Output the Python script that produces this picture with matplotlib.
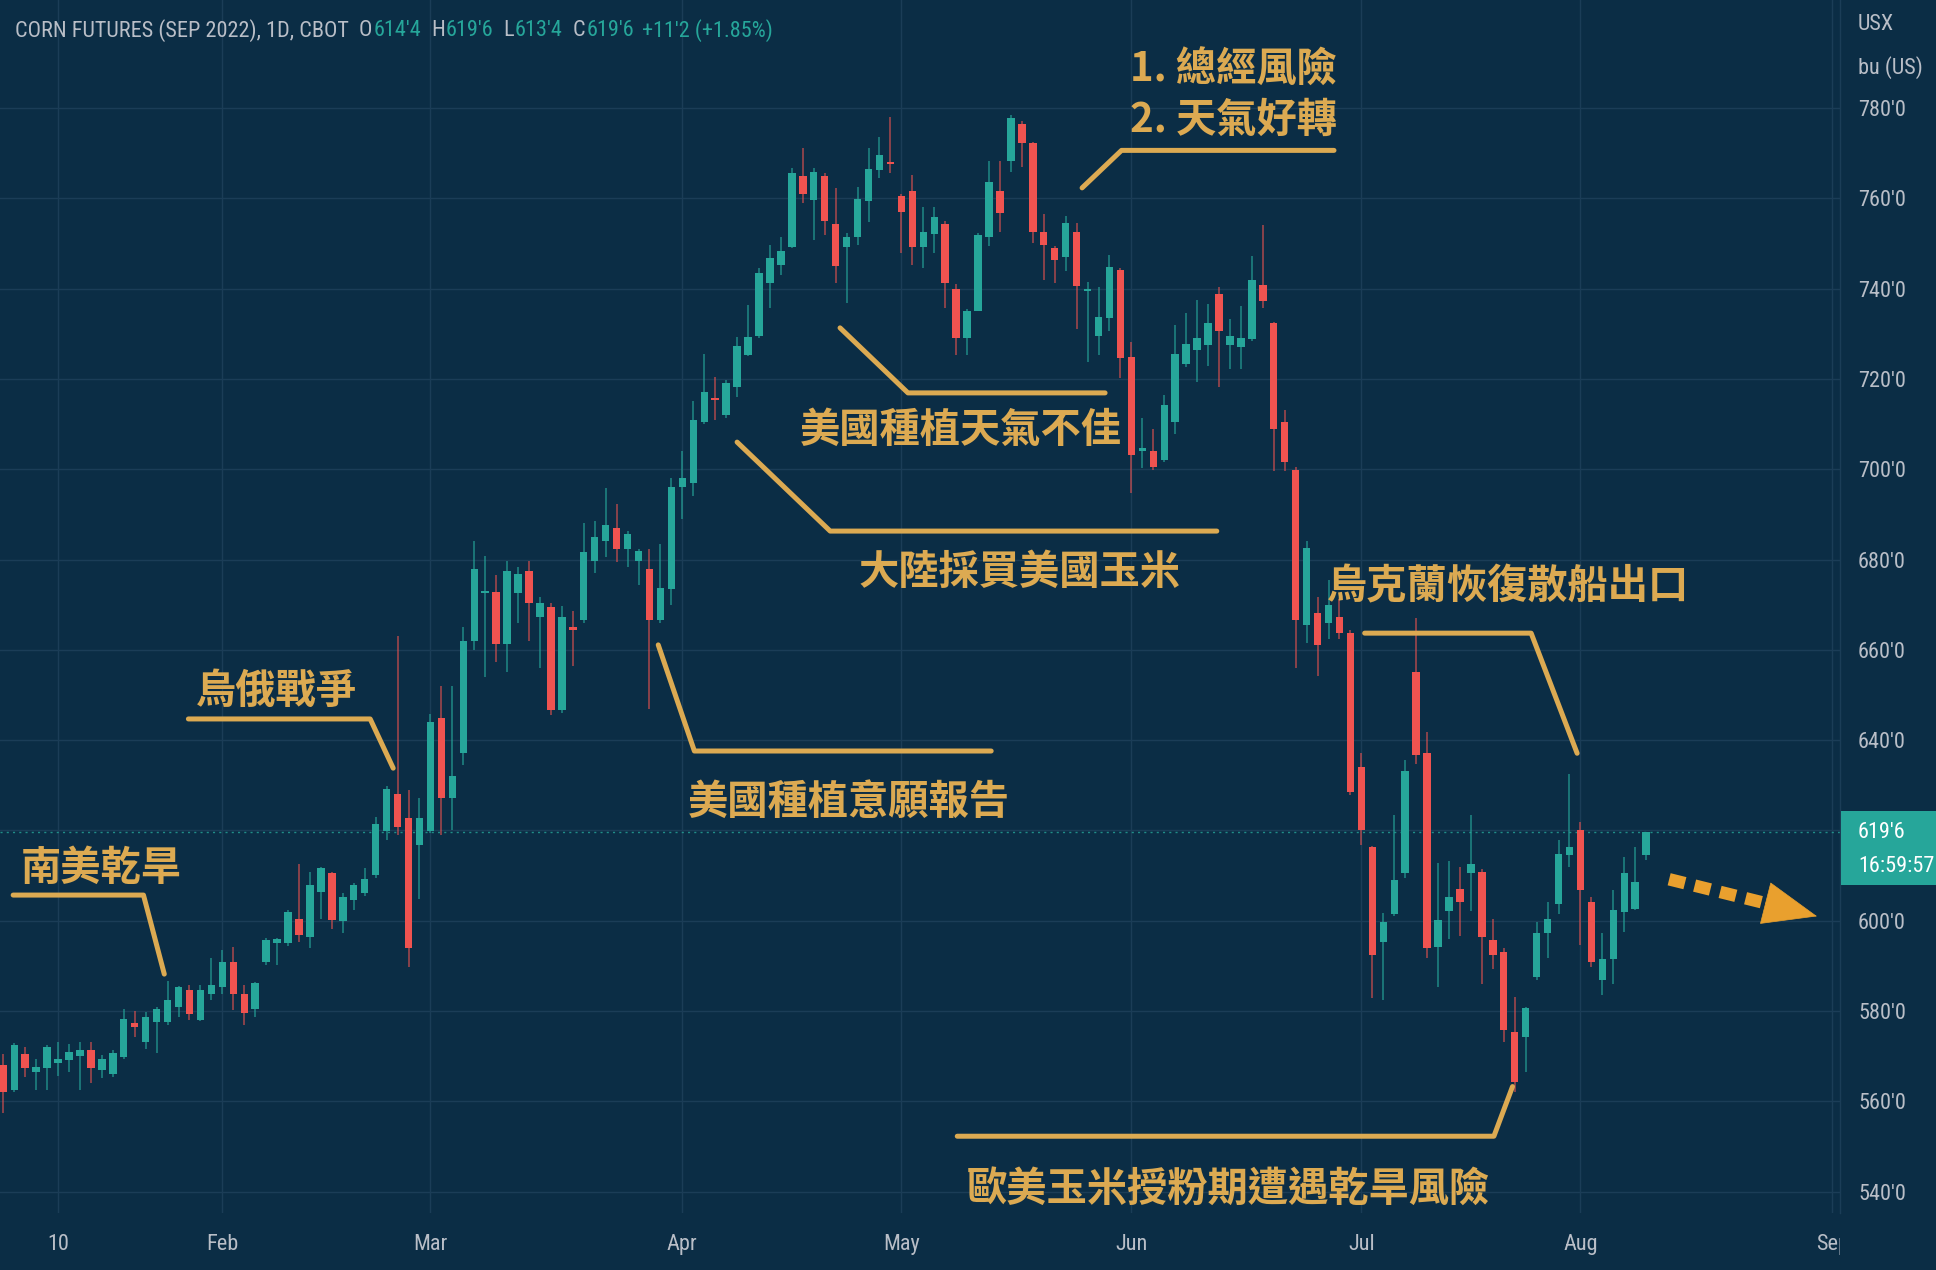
import numpy as np
import pandas as pd
import matplotlib
matplotlib.use('Agg')
import matplotlib.pyplot as plt
from matplotlib import font_manager as fm
from matplotlib.patches import Rectangle
from matplotlib.ticker import FuncFormatter, FixedLocator
from matplotlib.transforms import Bbox

# ---------------- data ----------------
start_date = '2022-01-03'
holidays = ['2022-01-17', '2022-02-21', '2022-04-15', '2022-05-30',
            '2022-06-20', '2022-07-04', '2022-09-05']

opens = [568.0, 562.5, 570.6, 566.6, 567.3, 568.6, 569.2, 570.0, 571.5, 566.9,
         566.0, 569.9, 577.3, 573.2, 577.6, 577.5, 581.0, 584.7, 578.0, 583.9,
         585.4, 590.9, 583.8, 580.4, 590.9, 595.0, 595.1, 600.3, 596.5, 606.4,
         610.5, 600.0, 604.6, 606.1, 610.1, 619.9, 628.1, 622.7, 616.8, 619.9,
         645.0, 627.1, 637.2, 662.0, 672.5, 672.9, 661.4, 672.6, 677.5, 667.2,
         669.5, 646.7, 665.0, 666.6, 679.7, 684.0, 686.9, 682.3, 679.7, 678.0,
         666.5, 673.4, 696.0, 697.0, 710.5, 715.8, 712.0, 718.3, 725.3, 729.5,
         741.3, 745.2, 749.1, 764.9, 759.6, 764.9, 754.3, 749.3, 751.4, 759.3,
         766.3, 768.1, 760.5, 761.5, 749.3, 752.1, 754.3, 740.0, 729.0, 735.1,
         751.5, 761.7, 768.3, 776.5, 772.2, 752.6, 748.9, 746.9, 752.6, 739.5,
         729.5, 733.4, 744.1, 724.8, 704.0, 704.1, 702.0, 710.5, 723.4, 726.4,
         727.5, 738.8, 727.5, 727.1, 728.8, 740.8, 732.3, 710.5, 699.8, 665.5,
         668.2, 666.0, 667.3, 663.8, 634.0, 616.3, 595.4, 601.6, 610.5, 655.2,
         637.1, 594.1, 602.2, 607.0, 610.5, 610.9, 595.7, 593.1, 575.4, 574.3,
         587.6, 597.2, 603.8, 614.5, 620.1, 604.2, 586.9, 591.6, 602.0, 602.7,
         614.5]
highs = [570.6, 573.0, 572.0, 569.3, 572.5, 573.2, 572.8, 573.2, 573.2, 570.3,
         571.5, 580.4, 580.0, 579.9, 581.0, 586.7, 585.6, 585.8, 585.8, 591.7,
         593.5, 594.3, 585.8, 586.5, 596.1, 596.3, 602.5, 612.6, 610.9, 612.0,
         610.9, 606.2, 608.3, 611.6, 623.0, 629.8, 663.0, 629.0, 627.1, 645.9,
         652.0, 652.0, 665.0, 684.0, 680.8, 676.6, 679.7, 678.3, 679.7, 671.6,
         670.3, 669.7, 668.7, 688.0, 688.6, 695.8, 692.3, 686.4, 682.3, 682.3,
         683.4, 698.0, 704.0, 715.0, 725.6, 720.5, 719.7, 729.3, 736.4, 744.5,
         749.6, 751.5, 766.6, 771.1, 766.6, 765.5, 762.2, 752.2, 762.6, 771.1,
         773.6, 778.0, 761.0, 765.2, 758.0, 758.0, 755.0, 741.0, 735.5, 752.4,
         768.3, 768.3, 778.5, 777.0, 772.5, 756.5, 749.5, 756.1, 754.5, 741.5,
         740.4, 747.5, 744.5, 728.2, 711.3, 709.0, 716.4, 731.9, 734.5, 737.5,
         736.6, 740.3, 733.2, 736.1, 747.2, 754.1, 732.5, 713.2, 700.5, 684.2,
         671.6, 675.5, 671.2, 664.4, 637.1, 616.5, 601.8, 623.4, 635.6, 667.0,
         641.9, 612.9, 613.3, 612.0, 623.4, 611.5, 600.5, 593.9, 583.2, 581.0,
         599.8, 604.2, 618.0, 632.5, 621.9, 605.3, 597.2, 606.8, 614.2, 616.4,
         619.75]
lows = [557.5, 562.0, 565.5, 562.5, 562.5, 565.6, 566.6, 562.6, 564.0, 565.1,
        565.5, 569.5, 574.3, 571.7, 570.8, 577.0, 578.7, 578.0, 577.8, 582.4,
        583.9, 580.2, 576.9, 578.7, 590.2, 590.2, 594.4, 595.4, 593.9, 600.3,
        598.1, 597.4, 602.4, 605.5, 609.5, 618.0, 619.0, 589.8, 604.9, 619.5,
        619.0, 620.1, 634.5, 660.0, 654.0, 657.4, 655.1, 665.9, 662.0, 655.9,
        645.6, 646.0, 656.4, 666.0, 677.1, 680.6, 679.5, 678.3, 674.4, 646.8,
        666.0, 669.9, 689.0, 694.0, 710.0, 710.9, 711.3, 716.0, 725.0, 729.0,
        735.6, 743.0, 749.0, 758.9, 750.8, 751.9, 741.2, 736.9, 749.6, 754.8,
        764.4, 765.5, 747.8, 745.2, 744.5, 747.8, 735.6, 725.3, 725.3, 735.0,
        749.4, 752.6, 765.9, 766.9, 750.2, 741.8, 741.3, 743.8, 731.0, 723.8,
        725.3, 730.5, 720.1, 694.8, 700.2, 699.8, 701.5, 707.9, 722.7, 719.4,
        722.9, 718.1, 722.3, 722.3, 728.5, 735.6, 699.7, 699.5, 656.0, 661.6,
        654.1, 662.5, 662.5, 627.8, 616.8, 582.8, 582.4, 601.0, 609.4, 634.7,
        591.7, 585.4, 595.9, 596.6, 602.2, 586.1, 589.4, 573.2, 562.1, 566.6,
        586.9, 591.7, 601.6, 612.0, 594.6, 589.8, 583.5, 586.1, 597.6, 602.4,
        613.5]
closes = [562.0, 572.5, 567.3, 567.7, 572.0, 569.3, 571.0, 571.5, 567.3, 569.5,
          570.8, 578.2, 576.4, 578.8, 580.4, 582.4, 585.4, 579.3, 584.7, 585.8,
          590.9, 583.9, 579.6, 586.3, 595.7, 595.9, 602.0, 596.8, 607.9, 611.6,
          600.2, 605.3, 607.9, 609.2, 621.4, 629.1, 620.7, 593.9, 622.7, 644.1,
          627.3, 632.0, 662.0, 678.0, 672.8, 661.4, 677.5, 676.9, 670.4, 670.3,
          646.7, 667.3, 664.4, 681.7, 685.1, 687.6, 682.3, 685.6, 682.0, 666.6,
          673.8, 696.1, 698.0, 711.0, 717.2, 715.3, 719.0, 727.3, 729.3, 743.4,
          746.7, 748.4, 765.7, 761.0, 765.9, 755.0, 744.9, 751.5, 759.8, 766.4,
          769.6, 767.6, 757.0, 749.3, 752.6, 755.9, 741.3, 729.0, 735.1, 751.9,
          763.7, 756.8, 777.7, 772.2, 752.6, 749.7, 746.3, 754.5, 740.6, 739.8,
          733.6, 744.7, 724.6, 703.1, 704.6, 700.6, 714.2, 725.6, 727.7, 729.0,
          732.3, 730.5, 729.4, 729.0, 741.8, 737.3, 708.8, 701.7, 666.6, 682.5,
          661.1, 669.9, 663.8, 628.6, 620.0, 592.4, 599.8, 609.0, 633.2, 636.7,
          593.9, 600.2, 605.3, 604.2, 612.6, 596.5, 592.4, 575.8, 564.3, 580.6,
          597.2, 600.5, 614.9, 616.4, 606.8, 590.9, 591.6, 602.4, 610.5, 608.6,
          619.75]

month_ticks = ['2022-01-10', '2022-02-01', '2022-03-01', '2022-04-01', '2022-05-02',
               '2022-06-01', '2022-07-01', '2022-08-01', '2022-09-01']
month_labels = ['10', 'Feb', 'Mar', 'Apr', 'May', 'Jun', 'Jul', 'Aug', 'Sep']
price_ticks = [540, 560, 580, 600, 640, 660, 680, 700, 720, 740, 760, 780]
last_price = 619.75

header_parts = [("CORN FUTURES (SEP 2022), 1D, CBOT", 'grey', 10),
                ("O", 'grey', 1), ("614'4", 'teal', 10),
                ("H", 'grey', 1), ("619'6", 'teal', 10),
                ("L", 'grey', 1), ("613'4", 'teal', 10),
                ("C", 'grey', 1), ("619'6", 'teal', 8),
                ("+11'2 (+1.85%)", 'teal', 0)]

# annotations: (text, text x (trading-day index), text y (price), ha), path points
annotations = [
    ('南美乾旱', 8.9, 611.6, 'center', [(0.9, 605.7), (12.8, 605.7), (14.7, 588.2)]),
    ('烏俄戰爭', 24.9, 650.8, 'center', [(16.9, 644.7), (33.5, 644.7), (35.6, 633.8)]),
    ('美國種植意願報告', 77.2, 626.2, 'center', [(59.8, 661.1), (63.1, 637.6), (90.2, 637.6)]),
    ('大陸採買美國玉米', 92.8, 677.2, 'center', [(67.0, 706.0), (75.5, 686.3), (110.8, 686.3)]),
    ('美國種植天氣不佳', 87.4, 708.7, 'center', [(76.4, 731.3), (82.6, 716.9), (100.6, 716.9)]),
    ('1. 總經風險', 121.8, 788.4, 'right', []),
    ('2. 天氣好轉', 121.8, 777.3, 'right', [(98.5, 762.3), (102.1, 770.6), (121.5, 770.6)]),
    ('烏克蘭恢復散船出口', 137.4, 674.0, 'center', [(124.3, 663.7), (139.5, 663.7), (143.7, 637.1)]),
    ('歐美玉米授粉期遭遇乾旱風險', 111.9, 540.6, 'center', [(87.1, 552.3), (136.1, 552.3), (137.8, 563.3)]),
]
arrow_start = (152.1, 609.2)
arrow_head_base = (160.9, 603.9)
arrow_end = (165.6, 601.0)

# ---------------- style ----------------
W, H = 1936, 1270
BG = '#0b2d45'
GRID = '#1b3d57'
UP = '#26a69a'
DN = '#ef5350'
LABEL = '#b9bec7'
GOLD = '#dcaa52'
ARROW = '#e9a02e'

names = {f.name for f in fm.fontManager.ttflist}
if 'Roboto Condensed' in names:
    COND = {'family': 'Roboto Condensed'}
elif 'Liberation Sans Narrow' in names:
    COND = {'family': 'Liberation Sans Narrow'}
elif any(f.name == 'DejaVu Sans' and 'condensed' in str(f.stretch) for f in fm.fontManager.ttflist):
    COND = {'family': 'DejaVu Sans', 'stretch': 'condensed'}
else:
    COND = {'family': 'Roboto'}
CJK = ['Noto Sans CJK TC', 'DejaVu Sans']

# trading-day calendar
days = pd.bdate_range(start_date, '2022-09-30')
days = days[~days.isin(pd.to_datetime(holidays))]
tick_pos = [days.get_loc(pd.Timestamp(d)) for d in month_ticks]

fig = plt.figure(figsize=(W / 100, H / 100), dpi=100, facecolor=BG)
ax = fig.add_axes([0, 57 / H, 1840 / W, 1213 / H], facecolor=BG)
ax.set_xlim(-0.3, 167.7)
ax.set_ylim(535.3, 803.9)

# grid
for p in price_ticks + [620]:
    ax.axhline(p, color=GRID, lw=1.0, zorder=0)
for t in tick_pos:
    ax.axvline(t, color=GRID, lw=1.0, zorder=0)

# candles
o = np.array(opens); h = np.array(highs); l = np.array(lows); c = np.array(closes)
x = np.arange(len(c))
up = c >= o
cols = np.where(up, UP, DN)
ax.vlines(x[up], l[up], h[up], color=UP, alpha=0.6, lw=1.4, zorder=2)
ax.vlines(x[~up], l[~up], h[~up], color=DN, alpha=0.55, lw=1.4, zorder=2)
body_lo = np.minimum(o, c)
body_h = np.maximum(np.abs(c - o), 0.5)
ax.bar(x, body_h, bottom=body_lo, width=0.68, color=cols, linewidth=0, zorder=3)

# last price dotted line
ax.axhline(last_price, color=UP, lw=1.0, ls=(0, (1.5, 3)), alpha=0.8, zorder=1)

# annotations
for txt, tx, ty, ha, pts in annotations:
    if pts:
        px, py = zip(*pts)
        ax.plot(px, py, color=GOLD, lw=3.6, solid_capstyle='round',
                solid_joinstyle='round', zorder=5)
    ax.text(tx, ty, txt, color=GOLD, fontsize=29, fontweight='bold', family=CJK,
            ha=ha, va='center', zorder=6)

# dashed arrow: dashed shaft + solid head
ax.plot([arrow_start[0], arrow_head_base[0]], [arrow_start[1], arrow_head_base[1]],
        color=ARROW, lw=9, dashes=(1.3, 0.8), solid_capstyle='butt',
        dash_capstyle='butt', zorder=6)
ax.annotate('', xy=arrow_end, xytext=arrow_head_base,
            arrowprops=dict(arrowstyle='-|>,head_length=1.25,head_width=0.5',
                            fc=ARROW, ec=ARROW, lw=0.5, mutation_scale=30,
                            shrinkA=0, shrinkB=0),
            zorder=6)

# axes / ticks
for s in ax.spines.values():
    s.set_visible(False)
ax.yaxis.tick_right()
ax.yaxis.set_major_locator(FixedLocator(price_ticks))
ax.yaxis.set_major_formatter(FuncFormatter(lambda v, p: f"{int(round(v))}'0"))
ax.set_xticks(tick_pos)
ax.set_xticklabels(month_labels)
ax.tick_params(axis='y', length=0, pad=13, labelcolor=LABEL, labelsize=16)
ax.tick_params(axis='x', length=0, pad=15, labelcolor=LABEL, labelsize=16)
for lab in ax.get_yticklabels() + ax.get_xticklabels():
    lab.set_fontfamily(COND['family'])
    if 'stretch' in COND:
        lab.set_fontstretch(COND['stretch'])
# clip the last month label at the price-scale border (as in the reference)
clip_bb = Bbox([[0, 0], [1840, H]])
for lab in ax.get_xticklabels():
    lab.set_clip_box(clip_bb)
    lab.set_clip_on(True)

# price-scale border
fig.add_artist(plt.Line2D([1840 / W, 1840 / W], [57 / H, 1], transform=fig.transFigure,
                          color=GRID, lw=1.0))

# units
fig.text(1858 / W, 1 - 25 / H, 'USX', color=LABEL, fontsize=16, va='center', ha='left', **COND)
fig.text(1858 / W, 1 - 68 / H, 'bu (US)', color=LABEL, fontsize=16, va='center', ha='left', **COND)

# price tag
fig.patches.append(Rectangle((1841 / W, 1 - 885 / H), 95 / W, 74 / H,
                             transform=fig.transFigure, facecolor=UP, edgecolor='none', zorder=5))
fig.text(1858 / W, 1 - 832 / H, "619'6", color='white', fontsize=16, va='center', ha='left', zorder=6, **COND)
fig.text(1858 / W, 1 - 866 / H, "16:59:57", color='white', fontsize=16, va='center', ha='left', zorder=6, **COND)

# header
renderer = fig.canvas.get_renderer()
hx = 15
for txt, col, gap in header_parts:
    t = fig.text(hx / W, 1 - 31 / H, txt, color=(LABEL if col == 'grey' else UP),
                 fontsize=16, va='center', ha='left', zorder=7, **COND)
    bb = t.get_window_extent(renderer)
    hx = bb.x1 + gap

fig.savefig('out.png', dpi=100, facecolor=BG)
